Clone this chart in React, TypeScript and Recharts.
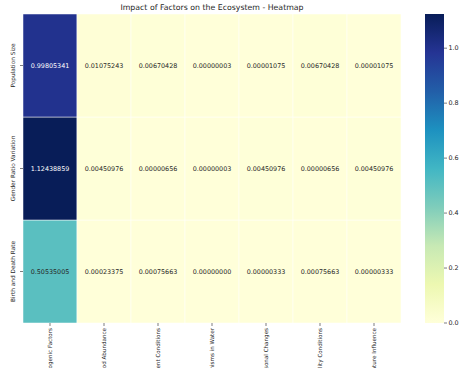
import React from "react";
import { BarChart, Bar, XAxis, YAxis, Cell, LabelList } from "recharts";

const FACTORS = [
  "Anthropogenic Factors",
  "Food Abundance",
  "Environment Conditions",
  "Microorganisms in Water",
  "Seasonal Changes",
  "Water Quality Conditions",
  "Temperature Influence",
];

const ROWS = ["Population Size", "Gender Ratio Variation", "Birth and Death Rate"];

const POPULATION_SIZE = [0.99805341, 0.01075243, 0.00670428, 0.00000003, 0.00001075, 0.00670428, 0.00001075];
const GENDER_RATIO = [1.12438859, 0.00450976, 0.00000656, 0.00000003, 0.00450976, 0.00000656, 0.00450976];
const BIRTH_DEATH = [0.50535005, 0.00023375, 0.00075663, 0.0, 0.00000333, 0.00075663, 0.00000333];

const COLORBAR_TICKS = [0, 0.2, 0.4, 0.6, 0.8, 1.0];

// matplotlib YlGnBu
const YLGNBU = ["#ffffd9", "#edf8b1", "#c7e9b4", "#7fcdbb", "#41b6c4", "#1d91c0", "#225ea8", "#253494", "#081d58"];

const VMAX = Math.max(...POPULATION_SIZE, ...GENDER_RATIO, ...BIRTH_DEATH);

const FONT = "'DejaVu Sans', sans-serif";
const TEXT = "#262626";

function hexToRgb(h: string) {
  return [1, 3, 5].map((i) => parseInt(h.slice(i, i + 2), 16));
}

function colorFor(v: number) {
  const t = Math.max(0, Math.min(1, v / VMAX)) * (YLGNBU.length - 1);
  const i = Math.min(Math.floor(t), YLGNBU.length - 2);
  const f = t - i;
  const a = hexToRgb(YLGNBU[i]);
  const b = hexToRgb(YLGNBU[i + 1]);
  const c = a.map((x, k) => Math.round(x + (b[k] - x) * f));
  return { fill: `rgb(${c[0]},${c[1]},${c[2]})`, lum: (0.2126 * c[0] + 0.7152 * c[1] + 0.0722 * c[2]) / 255 };
}

// bottom row first, because bars stack upward
const SERIES = [
  { key: "birth", values: BIRTH_DEATH },
  { key: "gender", values: GENDER_RATIO },
  { key: "pop", values: POPULATION_SIZE },
];

const data = FACTORS.map((name, i) => ({
  name,
  pop: POPULATION_SIZE[i],
  gender: GENDER_RATIO[i],
  birth: BIRTH_DEATH[i],
}));

function XTick(props: any) {
  const { x, y, payload } = props;
  return (
    <text
      x={x + 2}
      y={y}
      transform={`rotate(-90, ${x + 2}, ${y})`}
      textAnchor="end"
      fontSize={5.6}
      fontFamily={FONT}
      fill={TEXT}
    >
      {payload.value}
    </text>
  );
}

function YTick(props: any) {
  const { x, y, payload } = props;
  const label = ROWS[2 - Math.floor(payload.value)];
  const bx = x - 3;
  return (
    <text
      x={bx}
      y={y}
      transform={`rotate(-90, ${bx}, ${y})`}
      textAnchor="middle"
      fontSize={5.8}
      fontFamily={FONT}
      fill={TEXT}
    >
      {label}
    </text>
  );
}

function CellLabel(props: any) {
  const { x, y, width, height, value } = props;
  const { lum } = colorFor(value);
  return (
    <text
      x={x + width / 2}
      y={y + height / 2}
      dy="0.35em"
      textAnchor="middle"
      fontSize={6.4}
      fontFamily={FONT}
      fill={lum < 0.408 ? "#ffffff" : TEXT}
    >
      {value.toFixed(8)}
    </text>
  );
}

export default function App() {
  return (
    <div style={{ position: "absolute", left: 0, top: 0, width: 464, height: 368, background: "#fff" }}>
      <div
        style={{
          position: "absolute",
          left: 23,
          width: 378,
          top: 3,
          textAlign: "center",
          fontFamily: FONT,
          fontSize: 7.8,
          lineHeight: "9px",
          color: TEXT,
        }}
      >
        Impact of Factors on the Ecosystem - Heatmap
      </div>

      <div style={{ position: "absolute", left: 0, top: 0 }}>
        <BarChart
          width={464}
          height={368}
          data={data}
          barCategoryGap={0}
          margin={{ top: 14, right: 63, left: 0, bottom: 0 }}
        >
          <XAxis
            dataKey="name"
            interval={0}
            height={45}
            axisLine={false}
            tickSize={3}
            tickLine={{ stroke: TEXT, strokeWidth: 0.6 }}
            tick={<XTick />}
          />
          <YAxis
            type="number"
            domain={[0, 3]}
            ticks={[0.5, 1.5, 2.5]}
            width={23}
            axisLine={false}
            tickSize={3}
            tickLine={{ stroke: TEXT, strokeWidth: 0.6 }}
            tick={<YTick />}
          />
          {SERIES.map((s) => (
            <Bar key={s.key} dataKey={() => 1} stackId="heat" isAnimationActive={false}>
              {s.values.map((v, i) => (
                <Cell key={i} fill={colorFor(v).fill} stroke="#ffffff" strokeWidth={0.5} />
              ))}
              <LabelList dataKey={s.key} content={<CellLabel />} />
            </Bar>
          ))}
        </BarChart>
      </div>

      <div style={{ position: "absolute", left: 0, top: 0 }}>
        <BarChart
          width={464}
          height={368}
          data={[{ name: "scale", v: VMAX }]}
          barCategoryGap={0}
          margin={{ top: 14, right: 0, left: 425, bottom: 45 }}
        >
          <defs>
            <linearGradient id="ylgnbu" x1="0" y1="1" x2="0" y2="0">
              {YLGNBU.map((c, i) => (
                <stop key={c} offset={`${(i / (YLGNBU.length - 1)) * 100}%`} stopColor={c} />
              ))}
            </linearGradient>
          </defs>
          <XAxis dataKey="name" hide />
          <YAxis
            orientation="right"
            type="number"
            domain={[0, VMAX]}
            ticks={COLORBAR_TICKS}
            width={20}
            axisLine={false}
            tickSize={3}
            tickMargin={1.5}
            tickLine={{ stroke: TEXT, strokeWidth: 0.6 }}
            tickFormatter={(v: number) => v.toFixed(1)}
            tick={{ fontSize: 6.4, fontFamily: FONT, fill: TEXT }}
          />
          <Bar dataKey="v" fill="url(#ylgnbu)" isAnimationActive={false} />
        </BarChart>
      </div>
    </div>
  );
}
